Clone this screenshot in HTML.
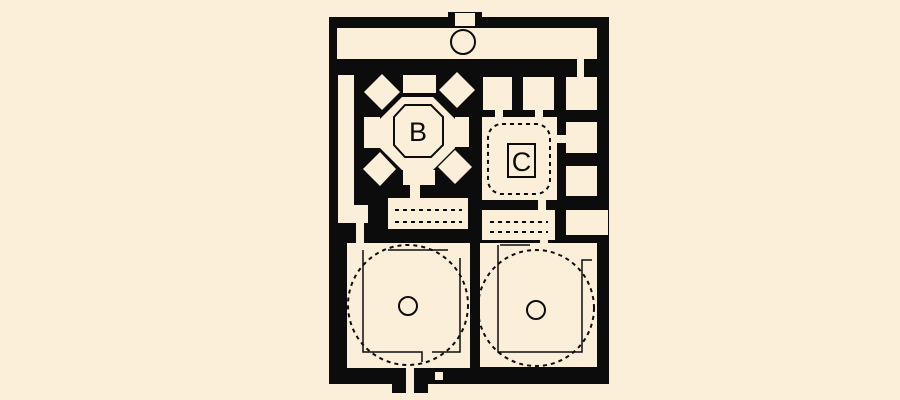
<!DOCTYPE html>
<html><head><style>
html,body{margin:0;padding:0;background:#fbefd9;}
svg{display:block}
</style></head><body>
<svg width="900" height="400" viewBox="0 0 900 400" xmlns="http://www.w3.org/2000/svg">
<rect width="900" height="400" fill="#fbefd9"/>
<g fill="#0c0c0c">
<rect x="329" y="17" width="280" height="367"/>
<rect x="448" y="12" width="34" height="8"/>
<rect x="392" y="380" width="36" height="13"/>
</g>
<g fill="#fbefd9">
<rect x="455" y="13" width="20" height="13"/>
<rect x="337" y="28" width="260" height="31"/>
<rect x="338" y="75" width="16" height="140"/>
<rect x="338" y="205" width="30" height="18"/>
<polygon points="402,97 433,97 455,119 455,148 433,170 402,170 380,148 380,119"/>
<rect x="403" y="75" width="33" height="18"/>
<rect x="364" y="117" width="16" height="31"/>
<rect x="455" y="117" width="14" height="30"/>
<rect x="403" y="170" width="32" height="15"/>
<rect x="410" y="184" width="10" height="16"/>
<polygon points="382,74 400,92 382,110 364,92"/>
<polygon points="457,72 475,90 457,108 439,90"/>
<polygon points="380,152 396,169 380,186 363,169"/>
<polygon points="455,150 472,167 455,184 438,167"/>
<rect x="388" y="198" width="80" height="31"/>
<rect x="483" y="77" width="29" height="33"/>
<rect x="523" y="77" width="31" height="33"/>
<rect x="566" y="77" width="31" height="33"/>
<rect x="577" y="58" width="7" height="20"/>
<rect x="495" y="108" width="8" height="12"/>
<rect x="535" y="108" width="8" height="12"/>
<rect x="482" y="117" width="75" height="83"/>
<rect x="555" y="135" width="12" height="8"/>
<rect x="566" y="122" width="31" height="31"/>
<rect x="566" y="166" width="31" height="30"/>
<rect x="538" y="198" width="8" height="14"/>
<rect x="482" y="210" width="73" height="30"/>
<rect x="566" y="210" width="42" height="25"/>
<rect x="347" y="243" width="123" height="125"/>
<rect x="356" y="220" width="8" height="24"/>
<rect x="480" y="243" width="117" height="124"/>
<rect x="540" y="238" width="8" height="8"/>
<rect x="406" y="367" width="8" height="26"/>
<rect x="435" y="372" width="8" height="8"/>
</g>
<g fill="none" stroke="#0c0c0c">
<circle cx="463" cy="42" r="12" stroke-width="2"/>
<polygon points="405,105 431,105 443,117 443,145 431,157 405,157 394,145 394,117" stroke-width="2"/>
<rect x="508" y="144" width="27" height="33" stroke-width="2"/>
<circle cx="408" cy="306" r="9" stroke-width="2"/>
<circle cx="536" cy="310" r="9" stroke-width="2"/>
<g stroke-dasharray="4,4" stroke-width="2">
<circle cx="408" cy="305" r="60"/>
<circle cx="536" cy="308" r="58"/>
<rect x="488" y="124" width="62" height="70" rx="14"/>
<path d="M395 210 H462 M395 222 H462 M490 222 H548 M490 232 H548"/>
</g>
<path d="M363 250 V352 H422 V362 M460 258 V352 H432 M388 250 H448 M498 245 V352 H582 V260 H592 M500 245 H530" stroke-width="1.5"/>
</g>
<text x="418" y="141" font-family="Liberation Sans, sans-serif" font-size="27" text-anchor="middle" fill="#0c0c0c">B</text>
<text x="521.5" y="171" font-family="Liberation Sans, sans-serif" font-size="27" text-anchor="middle" fill="#0c0c0c">C</text>
</svg>
</body></html>
